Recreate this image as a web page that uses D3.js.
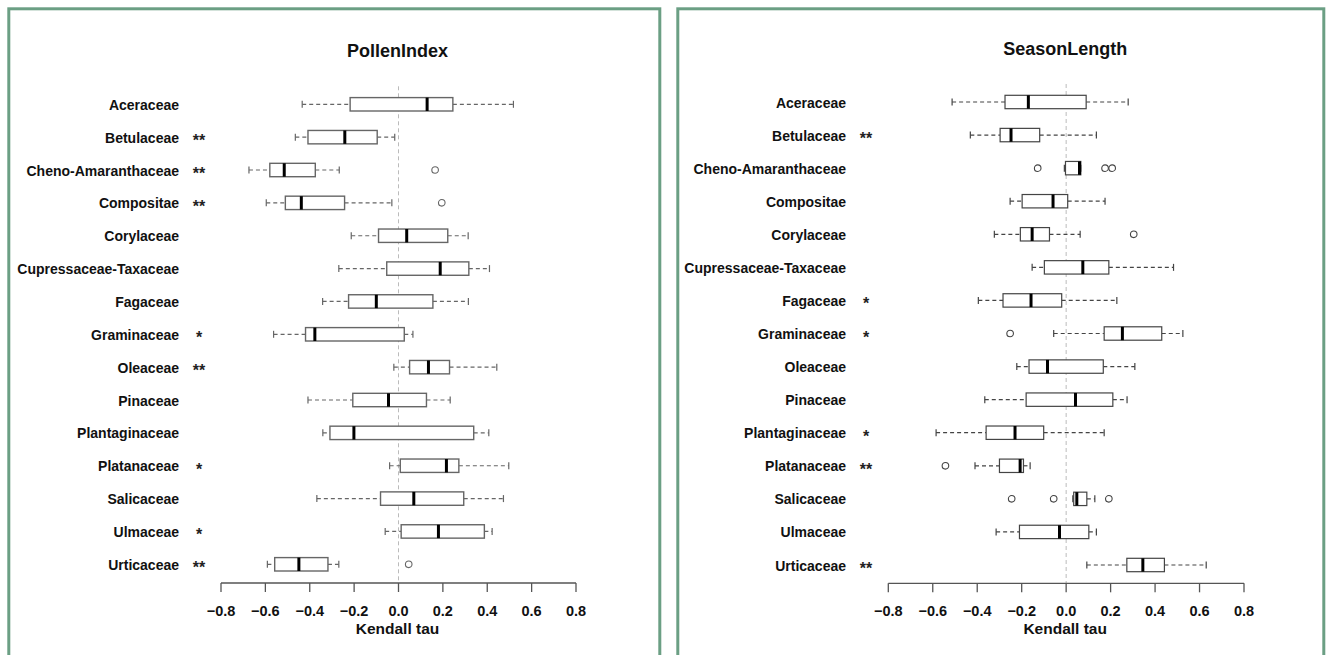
<!DOCTYPE html>
<html lang="en">
<head>
<meta charset="UTF-8">
<title>Kendall tau boxplots</title>
<script src="https://d3js.org/d3.v7.min.js"></script>
<style>
  body { margin: 0; background: #fff; }
  svg { display: block; font-family: "Liberation Sans", Arial, sans-serif; }
  .frame { fill: none; stroke: #6b9f84; stroke-width: 3; }
  .title { font-size: 18px; font-weight: bold; fill: #111; }
  .rowlab { font-size: 14px; font-weight: bold; fill: #111; }
  .star { font-size: 16px; font-weight: bold; fill: #222; }
  .ticklab { font-size: 14.5px; font-weight: bold; fill: #111; }
  .xlab { font-size: 15.5px; font-weight: bold; fill: #111; }
</style>
</head>
<body>
<div id="viz"></div>
<script>
// taxa, top to bottom
var families = ['Aceraceae', 'Betulaceae', 'Cheno-Amaranthaceae', 'Compositae', 'Corylaceae',
  'Cupressaceae-Taxaceae', 'Fagaceae', 'Graminaceae', 'Oleaceae', 'Pinaceae', 'Plantaginaceae',
  'Platanaceae', 'Salicaceae', 'Ulmaceae', 'Urticaceae'];

// [lower whisker, q1, median, q3, upper whisker]
var pollenStats = [
  [-0.434, -0.218, 0.129, 0.245, 0.518],
  [-0.465, -0.408, -0.242, -0.096, -0.017],
  [-0.674, -0.580, -0.515, -0.375, -0.267],
  [-0.596, -0.510, -0.438, -0.243, -0.030],
  [-0.213, -0.090, 0.037, 0.222, 0.314],
  [-0.269, -0.053, 0.188, 0.317, 0.410],
  [-0.342, -0.225, -0.100, 0.155, 0.315],
  [-0.563, -0.419, -0.377, 0.026, 0.065],
  [-0.021, 0.050, 0.135, 0.230, 0.443],
  [-0.408, -0.206, -0.045, 0.126, 0.233],
  [-0.341, -0.309, -0.201, 0.339, 0.407],
  [-0.040, 0.008, 0.216, 0.272, 0.497],
  [-0.368, -0.081, 0.069, 0.294, 0.473],
  [-0.060, 0.012, 0.180, 0.387, 0.422],
  [-0.591, -0.558, -0.449, -0.318, -0.269]
];
var pollenOutliers = [[], [], [0.165], [0.195], [], [], [], [], [], [], [], [], [], [], [0.046]];
var pollenStars = ['', '**', '**', '**', '', '', '', '*', '**', '', '', '*', '', '*', '**'];

var seasonStats = [
  [-0.513, -0.275, -0.170, 0.090, 0.279],
  [-0.431, -0.297, -0.248, -0.119, 0.136],
  [-0.008, -0.003, 0.060, 0.066, 0.066],
  [-0.252, -0.198, -0.059, 0.007, 0.175],
  [-0.323, -0.206, -0.153, -0.075, 0.063],
  [-0.153, -0.098, 0.075, 0.192, 0.483],
  [-0.395, -0.284, -0.158, -0.020, 0.228],
  [-0.056, 0.171, 0.253, 0.430, 0.525],
  [-0.222, -0.167, -0.084, 0.167, 0.309],
  [-0.366, -0.180, 0.042, 0.210, 0.274],
  [-0.585, -0.360, -0.230, -0.101, 0.171],
  [-0.410, -0.300, -0.207, -0.192, -0.162],
  [0.030, 0.034, 0.048, 0.093, 0.129],
  [-0.315, -0.210, -0.030, 0.102, 0.136],
  [0.093, 0.273, 0.345, 0.442, 0.630]
];
var seasonOutliers = [[], [], [-0.128, 0.175, 0.207], [], [0.304], [], [], [-0.252], [], [], [], [-0.543],
  [-0.245, -0.056, 0.192], [], []];
var seasonStars = ['', '**', '', '', '', '', '*', '*', '', '', '*', '**', '', '', '**'];

var xTicks = [-0.8, -0.6, -0.4, -0.2, 0.0, 0.2, 0.4, 0.6, 0.8];

var svg = d3.select('#viz').append('svg')
  .attr('width', 1326)
  .attr('height', 655);

var panels = [
  {title: 'PollenIndex', stats: pollenStats, outliers: pollenOutliers, stars: pollenStars,
   frame: [8.8, 8.8, 651, 660], x0: 221, x1: 576, y0: 104.3, y1: 564.3, labX: 179, starX: 199,
   titleY: 56.7, axisY: 583, grey: '#666', boxW: 1.4},
  {title: 'SeasonLength', stats: seasonStats, outliers: seasonOutliers, stars: seasonStars,
   frame: [677.8, 8.8, 646, 660], x0: 888.3, x1: 1244, y0: 102, y1: 565, labX: 846, starX: 866,
   titleY: 55, axisY: 583.3, grey: '#444', boxW: 1.2}
];

panels.forEach(function (p) {
  var g = svg.append('g');

  g.append('rect')
    .attr('class', 'frame')
    .attr('x', p.frame[0]).attr('y', p.frame[1])
    .attr('width', p.frame[2]).attr('height', p.frame[3]);

  var x = d3.scaleLinear().domain([-0.8, 0.8]).range([p.x0, p.x1]);
  var y = d3.scalePoint().domain(families).range([p.y0, p.y1]);
  var bh = 13.4;

  g.append('text')
    .attr('class', 'title')
    .attr('x', x(0) - 1).attr('y', p.titleY)
    .attr('text-anchor', 'middle')
    .text(p.title);

  // zero reference line
  g.append('line')
    .attr('x1', x(0)).attr('x2', x(0))
    .attr('y1', p.y0 - 18).attr('y2', p.axisY)
    .style('stroke', '#bbb').style('stroke-width', 1)
    .style('stroke-dasharray', '4,3');

  // row labels + stars
  g.selectAll('.rowlab')
    .data(families)
    .enter().append('text')
    .attr('class', 'rowlab')
    .attr('x', p.labX)
    .attr('y', function (d) { return y(d) + 5.5; })
    .attr('text-anchor', 'end')
    .text(function (d) { return d; });

  g.selectAll('.star')
    .data(p.stars)
    .enter().append('text')
    .attr('class', 'star')
    .attr('x', p.starX)
    .attr('y', function (d, i) { return y(families[i]) + 9; })
    .attr('text-anchor', 'middle')
    .text(function (d) { return d; });

  var rows = g.selectAll('.row')
    .data(p.stats)
    .enter().append('g')
    .attr('class', 'row')
    .attr('transform', function (d, i) { return 'translate(0,' + y(families[i]) + ')'; });

  // whiskers
  rows.append('line')
    .attr('x1', function (d) { return x(d[0]); })
    .attr('x2', function (d) { return x(d[1]); })
    .style('stroke', p.grey).style('stroke-width', 1.2).style('stroke-dasharray', '4,3');
  rows.append('line')
    .attr('x1', function (d) { return x(d[3]); })
    .attr('x2', function (d) { return x(d[4]); })
    .style('stroke', p.grey).style('stroke-width', 1.2).style('stroke-dasharray', '4,3');
  rows.selectAll('.cap')
    .data(function (d) { return [d[0], d[4]]; })
    .enter().append('line')
    .attr('class', 'cap')
    .attr('x1', function (v) { return x(v); })
    .attr('x2', function (v) { return x(v); })
    .attr('y1', -3.5).attr('y2', 3.5)
    .style('stroke', p.grey).style('stroke-width', 1.2);

  // box
  rows.append('rect')
    .attr('x', function (d) { return x(d[1]); })
    .attr('width', function (d) { return x(d[3]) - x(d[1]); })
    .attr('y', -bh / 2).attr('height', bh)
    .style('fill', '#fff')
    .style('stroke', p.grey).style('stroke-width', p.boxW);

  // median
  rows.append('line')
    .attr('x1', function (d) { return x(d[2]); })
    .attr('x2', function (d) { return x(d[2]); })
    .attr('y1', -bh / 2).attr('y2', bh / 2)
    .style('stroke', '#000').style('stroke-width', 3);

  // outliers
  rows.selectAll('.out')
    .data(function (d, i) { return p.outliers[i]; })
    .enter().append('circle')
    .attr('class', 'out')
    .attr('cx', function (v) { return x(v); })
    .attr('r', 3.3)
    .style('fill', 'none')
    .style('stroke', p.grey).style('stroke-width', 1.1);

  // x axis
  var ax = g.append('g').attr('transform', 'translate(0,' + p.axisY + ')');
  ax.append('line')
    .attr('x1', x(-0.8)).attr('x2', x(0.8))
    .style('stroke', '#555').style('stroke-width', 1.3);
  ax.selectAll('.tick')
    .data(xTicks)
    .enter().append('line')
    .attr('class', 'tick')
    .attr('x1', function (d) { return x(d); })
    .attr('x2', function (d) { return x(d); })
    .attr('y1', 0).attr('y2', 9)
    .style('stroke', '#555').style('stroke-width', 1.3);
  ax.selectAll('.ticklab')
    .data(xTicks)
    .enter().append('text')
    .attr('class', 'ticklab')
    .attr('x', function (d) { return x(d); })
    .attr('y', 33)
    .attr('text-anchor', 'middle')
    .text(function (d) { return d3.format('.1f')(d); });

  g.append('text')
    .attr('class', 'xlab')
    .attr('x', x(0) - 1).attr('y', p.axisY + 51)
    .attr('text-anchor', 'middle')
    .text('Kendall tau');
});
</script>
</body>
</html>
